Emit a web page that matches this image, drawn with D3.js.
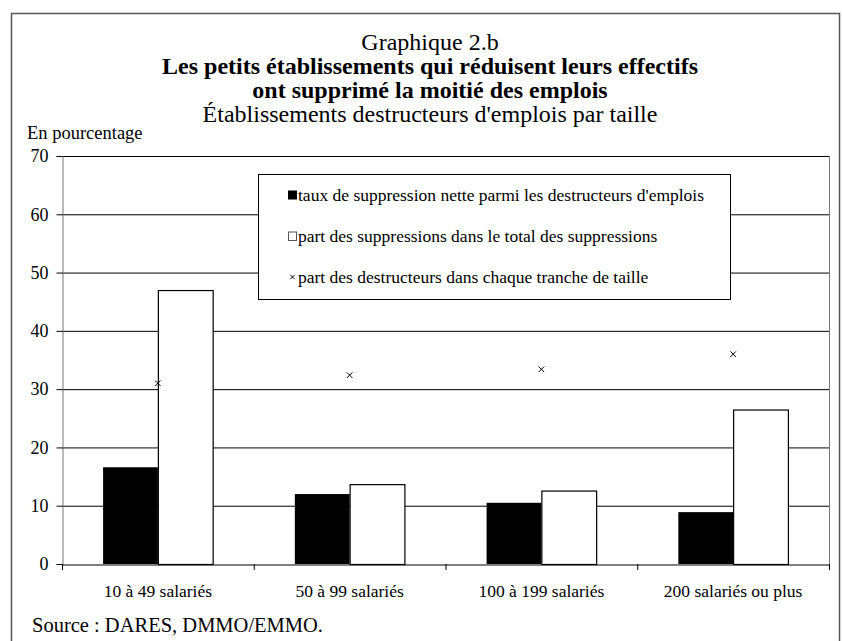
<!DOCTYPE html>
<html>
<head>
<meta charset="utf-8">
<script src="https://cdn.jsdelivr.net/npm/d3@7"></script>
<style>
  body { margin: 0; background: #fff; }
  svg { display: block; font-family: "Liberation Serif", "DejaVu Serif", serif; }
</style>
</head>
<body>
<svg id="chart" width="842" height="641"></svg>
<script>
const categories = ["10 à 49 salariés", "50 à 99 salariés", "100 à 199 salariés", "200 salariés ou plus"];
const tauxSuppression = [16.6, 12.0, 10.5, 8.9];
const partSuppressions = [47.0, 13.7, 12.6, 26.5];
const partDestructeurs = [31.0, 32.4, 33.4, 36.0];
const yTicks = [0, 10, 20, 30, 40, 50, 60, 70];
const legendLabels = [
  "taux de suppression nette parmi les destructeurs d'emplois",
  "part des suppressions dans le total des suppressions",
  "part des destructeurs dans chaque tranche de taille"
];

const svg = d3.select("#chart");
const plotL = 62, plotR = 829, plotT = 156, plotB = 564;

// outer frame
svg.append("rect")
  .attr("x", 11.5).attr("y", 13.5)
  .attr("width", 828).attr("height", 700)
  .attr("fill", "none").attr("stroke", "#555").attr("stroke-width", 1.5);

// titles
const titles = [
  { text: "Graphique 2.b", y: 50, weight: "normal" },
  { text: "Les petits établissements qui réduisent leurs effectifs", y: 74, weight: "bold" },
  { text: "ont supprimé la moitié des emplois", y: 98, weight: "bold" },
  { text: "Établissements destructeurs d'emplois par taille", y: 122, weight: "normal" }
];
svg.selectAll("text.title")
  .data(titles)
  .join("text")
  .attr("class", "title")
  .attr("x", 430).attr("y", d => d.y)
  .attr("text-anchor", "middle")
  .attr("font-size", 24)
  .attr("font-weight", d => d.weight)
  .text(d => d.text);

svg.append("text")
  .attr("x", 27).attr("y", 139)
  .attr("font-size", 18.5)
  .text("En pourcentage");

const x = d3.scaleBand().domain(categories).range([plotL, plotR]);
const xInner = d3.scaleBand().domain([0, 1]).range([0, x.bandwidth()]).paddingOuter(0.75).paddingInner(0);
const y = d3.scaleLinear().domain([0, 70]).range([plotB, plotT]);

// gridlines
svg.append("g")
  .selectAll("line")
  .data(yTicks.filter(t => t > 0))
  .join("line")
  .attr("x1", plotL).attr("x2", plotR)
  .attr("y1", d => y(d) + 0.5).attr("y2", d => y(d) + 0.5)
  .attr("stroke", "#000");

// right border of plot
svg.append("line")
  .attr("x1", plotR + 0.5).attr("x2", plotR + 0.5)
  .attr("y1", plotT).attr("y2", plotB)
  .attr("stroke", "#777");

// bars
const bars = svg.append("g");
bars.selectAll("rect.black")
  .data(tauxSuppression)
  .join("rect")
  .attr("class", "black")
  .attr("x", (d, i) => x(categories[i]) + xInner(0))
  .attr("y", d => y(d))
  .attr("width", xInner.bandwidth())
  .attr("height", d => plotB - y(d))
  .attr("fill", "#000");

bars.selectAll("rect.white")
  .data(partSuppressions)
  .join("rect")
  .attr("class", "white")
  .attr("x", (d, i) => x(categories[i]) + xInner(1) + 0.5)
  .attr("y", d => y(d) + 0.5)
  .attr("width", xInner.bandwidth())
  .attr("height", d => plotB - y(d))
  .attr("fill", "#fff")
  .attr("stroke", "#000")
  .attr("stroke-width", 1.2);

// cross markers
const cross = d3.symbol().type(d3.symbolX).size(22);
svg.append("g")
  .selectAll("path")
  .data(partDestructeurs)
  .join("path")
  .attr("transform", (d, i) => `translate(${x(categories[i]) + x.bandwidth() / 2},${y(d)})`)
  .attr("d", cross)
  .attr("fill", "none")
  .attr("stroke", "#000")
  .attr("stroke-width", 1);

// y axis
const yAxis = svg.append("g")
  .attr("transform", `translate(${plotL + 0.5},0)`)
  .call(d3.axisLeft(y).tickValues(yTicks).tickSize(6).tickPadding(8));
yAxis.select(".domain").attr("stroke", "#777");
yAxis.selectAll(".tick line").attr("stroke", "#000");
yAxis.selectAll("text").attr("font-size", 18).attr("font-family", "Liberation Serif").attr("fill", "#000");

// x axis
const xAxis = svg.append("g")
  .attr("transform", `translate(0,${plotB + 0.5})`)
  .call(d3.axisBottom(x).tickSize(0).tickPadding(20));
xAxis.select(".domain").attr("stroke", "#000");
xAxis.selectAll("text").attr("font-size", 17.5).attr("font-family", "Liberation Serif").attr("fill", "#000");
svg.append("g")
  .selectAll("line")
  .data(d3.range(categories.length + 1))
  .join("line")
  .attr("x1", i => plotL + i * x.bandwidth() + 0.5)
  .attr("x2", i => plotL + i * x.bandwidth() + 0.5)
  .attr("y1", plotB).attr("y2", plotB + 6)
  .attr("stroke", "#000");

// legend
const legend = svg.append("g");
legend.append("rect")
  .attr("x", 258.5).attr("y", 174.5)
  .attr("width", 472).attr("height", 125)
  .attr("fill", "#fff").attr("stroke", "#000");
const ly = [195, 236, 277];
legendLabels.forEach((lab, i) => {
  const g = legend.append("g").attr("transform", `translate(288,${ly[i]})`);
  if (i === 0) {
    g.append("rect").attr("x", 0).attr("y", -4.5).attr("width", 9).attr("height", 9).attr("fill", "#000");
  } else if (i === 1) {
    g.append("rect").attr("x", 0.5).attr("y", -4).attr("width", 8).attr("height", 8.5)
      .attr("fill", "#fff").attr("stroke", "#555");
  } else {
    g.append("path").attr("transform", "translate(4.5,0)").attr("d", d3.symbol().type(d3.symbolX).size(14))
      .attr("fill", "none").attr("stroke", "#000");
  }
  g.append("text")
    .attr("x", 10).attr("y", 6)
    .attr("font-size", 17.5)
    .text(lab);
});

svg.append("text")
  .attr("x", 32).attr("y", 632)
  .attr("font-size", 20.5)
  .text("Source : DARES, DMMO/EMMO.");
</script>
</body>
</html>
